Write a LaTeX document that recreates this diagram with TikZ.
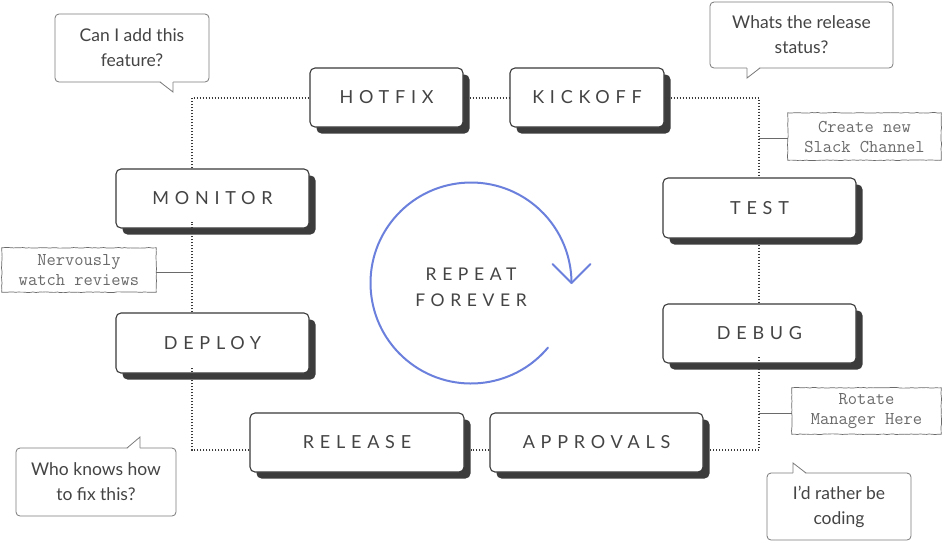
\documentclass[tikz,border=0pt]{standalone}
\usepackage{fontspec}
\setmainfont{Lato}
\newfontfamily\spacedfont[LetterSpace=32]{Lato}
\usetikzlibrary{calc,decorations.pathmorphing}
\definecolor{ink}{HTML}{3A3A3A}
\definecolor{txt}{HTML}{444444}
\definecolor{shade}{HTML}{3C3C3C}
\definecolor{bubblec}{HTML}{7A7A7A}
\definecolor{notec}{HTML}{6A6A6A}
\definecolor{cyc}{HTML}{6B80DC}
\begin{document}
\begin{tikzpicture}[x=1pt,y=-1pt,
  stagebox/.style={draw=ink, line width=1.1pt, fill=white, rounded corners=5pt,
    inner sep=0pt, text=txt, font=\spacedfont\fontsize{18}{20}\selectfont,
    preaction={fill=shade, transform canvas={shift={(6.5pt,-6.5pt)}}}},
  loopline/.style={draw=ink, line width=1.4pt, dash pattern=on 1.4pt off 1.6pt},
  bubble/.style={draw=bubblec, line width=0.8pt, fill=white, rounded corners=4pt,
    inner sep=0pt, align=center, text=txt, font=\fontsize{17.5}{25}\selectfont},
  note/.style={inner sep=0pt, align=center, text=notec, font=\ttfamily\fontsize{18}{20}\selectfont},
  sketch/.style={draw=notec, line width=0.7pt, decorate,
    decoration={random steps, segment length=3pt, amplitude=0.35pt}},
  noteline/.style={draw=notec, line width=0.8pt},
  tail/.style={draw=bubblec, line width=0.8pt, line join=miter},
]
\fill[white] (0,0) rectangle (944,542);
\useasboundingbox (0,0) rectangle (944,542);

% loop corners
\coordinate (tl) at (192,98);
\coordinate (tr) at (759,98);
\coordinate (br) at (759,450);
\coordinate (bl) at (192,450);

% stage boxes
\node[stagebox, minimum width=153pt, minimum height=59pt] (hotfix) at (386.5,97.5) {HOTFIX};
\node[stagebox, minimum width=154pt, minimum height=59pt] (kickoff) at (587,97.5) {KICKOFF};
\node[stagebox, minimum width=193pt, minimum height=59pt] (monitor) at (212.5,198.5) {MONITOR};
\node[stagebox, minimum width=193pt, minimum height=60pt] (test) at (759.5,208) {TEST};
\node[stagebox, minimum width=193pt, minimum height=60pt] (deploy) at (212.5,343) {DEPLOY};
\node[stagebox, minimum width=193pt, minimum height=59pt] (debug) at (759.5,333.5) {DEBUG};
\node[stagebox, minimum width=214pt, minimum height=59pt] (release) at (357,442.5) {RELEASE};
\node[stagebox, minimum width=213pt, minimum height=59pt] (approvals) at (596.5,442.5) {APPROVALS};

% dotted loop connectors
\draw[loopline] (monitor.north -| tl) -- (tl) -- (hotfix.west |- tl);
\draw[loopline] (hotfix.east |- tl) -- (kickoff.west |- tl);
\draw[loopline] (kickoff.east |- tr) -- (tr) -- (tr |- test.north);
\draw[loopline] (test.south -| tr) -- (debug.north -| tr);
\draw[loopline] ([yshift=6.5pt]debug.south -| br) -- (br) -- ([xshift=6.5pt]approvals.east |- br);
\draw[loopline] (approvals.west |- br) -- ([xshift=6.5pt]release.east |- bl);
\draw[loopline] (release.west |- bl) -- (bl) -- ([yshift=6.5pt]deploy.south -| bl);
\draw[loopline] (deploy.north -| tl) -- ([yshift=6.5pt]monitor.south -| tl);

% handwritten notes
\node[note, minimum width=153pt, minimum height=47pt] (slack) at (864.5,136.5) {Create new\\Slack Channel};
\draw[sketch] (slack.south west) rectangle (slack.north east);
\draw[noteline] (slack.west |- 0,138) -- (tr |- 0,138);

\node[note, minimum width=154pt, minimum height=44pt] (nervous) at (79,270) {Nervously\\watch reviews};
\draw[sketch] (nervous.south west) rectangle (nervous.north east);
\draw[noteline] (nervous.east |- 0,272) -- (tl |- 0,272);

\node[note, minimum width=149pt, minimum height=46pt] (rotate) at (866.5,411) {Rotate\\Manager Here};
\draw[sketch] (rotate.south west) rectangle (rotate.north east);
\draw[noteline] (rotate.west |- 0,413) -- (tr |- 0,413);

% speech bubbles
\node[bubble, minimum width=154pt, minimum height=68pt] (b1) at (132,48) {Can I add this\\feature?};
\fill[white] (160,81) -- (173,92) -- (173,81) -- cycle;
\draw[tail] (160,82) -- (173,92) -- (173,82);

\node[bubble, minimum width=183pt, minimum height=66pt] (b2) at (801.5,35) {Whats the release\\status?};
\fill[white] (747,67) -- (747,78) -- (760,67) -- cycle;
\draw[tail] (747,68) -- (747,78) -- (760,68);

\node[bubble, minimum width=160pt, minimum height=68pt] (b3) at (96,482) {Who knows how\\to fix this?};
\fill[white] (127,449) -- (140,437) -- (140,449) -- cycle;
\draw[tail] (127,448) -- (140,437) -- (140,448);

\node[bubble, minimum width=144pt, minimum height=67pt] (b4) at (839,506.5) {I’d rather be\\coding};
\fill[white] (793,474) -- (793,463) -- (806,474) -- cycle;
\draw[tail] (793,473) -- (793,463) -- (806,473);

% cycle
\coordinate (cc) at (471,283);
\draw[cyc, line width=2pt, line cap=round] ($(cc)+(40:100.5)$) arc[start angle=40, end angle=360, radius=100.5] coordinate (tip);
\draw[cyc, line width=2pt, line cap=round, line join=round] ($(tip)+(-19,-19)$) -- (tip) -- ($(tip)+(19,-19)$);
\node[align=center, text=txt, font=\spacedfont\fontsize{17.5}{26}\selectfont] (rep) at (471,287) {REPEAT\\FOREVER};
\end{tikzpicture}
\end{document}
